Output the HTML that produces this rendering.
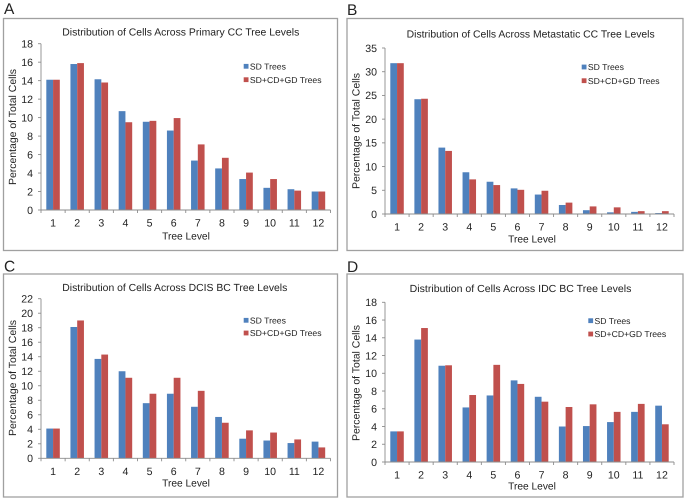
<!DOCTYPE html>
<html>
<head>
<meta charset="utf-8">
<title>Distribution of Cells Across Tree Levels</title>
<style>
html,body{margin:0;padding:0;background:#fff;width:687px;height:501px;overflow:hidden}
svg{display:block;filter:blur(0.3px)}
text{font-family:"Liberation Sans",sans-serif;fill:#222;text-rendering:geometricPrecision}
</style>
</head>
<body>
<svg id="figure" xmlns="http://www.w3.org/2000/svg" width="687" height="501" viewBox="0 0 687 501"></svg>
<script>
const categories = ['1','2','3','4','5','6','7','8','9','10','11','12'];
const seriesNames = ['SD Trees','SD+CD+GD Trees'];
const seriesColors = ['#4f81bd','#c0504d'];

const ticksA = [0,2,4,6,8,10,12,14,16,18];
const sdA = [14.1,15.8,14.15,10.7,9.55,8.6,5.35,4.5,3.35,2.4,2.25,2.0];
const allA = [14.1,15.9,13.8,9.5,9.65,9.95,7.1,5.65,4.05,3.35,2.1,2.0];

const ticksB = [0,5,10,15,20,25,30,35];
const sdB = [31.8,24.2,14.0,8.8,6.8,5.4,4.1,1.9,0.8,0.35,0.45,0.2];
const allB = [31.8,24.3,13.3,7.3,6.1,5.1,4.9,2.4,1.6,1.4,0.6,0.6];

const ticksC = [0,2,4,6,8,10,12,14,16,18,20,22];
const sdC = [4.1,18.1,13.7,12.0,7.6,8.9,7.1,5.7,2.7,2.45,2.1,2.3];
const allC = [4.1,19.0,14.3,11.1,8.9,11.1,9.3,4.9,3.85,3.55,2.6,1.5];

const ticksD = [0,2,4,6,8,10,12,14,16,18];
const sdD = [3.45,13.8,10.85,6.15,7.5,9.2,7.35,4.0,4.05,4.5,5.65,6.35];
const allD = [3.45,15.1,10.9,7.55,10.95,8.8,6.8,6.2,6.5,5.65,6.55,4.25];

const NS = 'http://www.w3.org/2000/svg';
const root = document.getElementById('figure');

function make(parent, tag, attrs, txt) {
  const n = document.createElementNS(NS, tag);
  for (const k in attrs) n.setAttribute(k, attrs[k]);
  if (txt !== undefined) n.textContent = txt;
  parent.appendChild(n);
  return n;
}

function drawPanel(p) {
  const g = make(root, 'g', {});
  
  

  const letter = make(g, 'text', {x:p.letterX, y:p.letterY, 'font-size':15.5}, p.letter);
  
  

  const frame = make(g, 'rect', {x:p.fx, y:p.fy, width:p.fw, height:p.fh, fill:'#fff', stroke:'#a0a0a0', 'stroke-width':1.3});
  
  

  const title = make(g, 'text', {x:p.titleX, y:p.titleY, 'font-size':10.3, textLength:p.titleW, lengthAdjust:'spacingAndGlyphs'}, p.title);
  
  

  const maxV = p.ticks[p.ticks.length - 1];
  const yScale = v => p.y0 - (v / maxV) * (p.y0 - p.yTop);
  const cell = (p.x1 - p.x0) / categories.length;
  const xCenter = i => p.x0 + cell * (i + 0.5);
  const barW = cell * 0.28;

  [p.sd, p.all].forEach((vals, s) => {
    vals.forEach((v, i) => {
      const y = yScale(v);
      const bar = make(g, 'rect', {x:xCenter(i) - barW + s * barW, y:y, width:barW, height:p.y0 - y, fill:seriesColors[s]});
      
      
    });
  });

  const yAxis = make(g, 'line', {x1:p.x0, x2:p.x0, y1:p.yTop, y2:p.y0, stroke:'#8c8c8c', 'stroke-width':0.9});
  
  

  const xAxis = make(g, 'line', {x1:p.x0, x2:p.x1, y1:p.y0, y2:p.y0, stroke:'#8c8c8c', 'stroke-width':0.9});
  
  

  p.ticks.forEach(t => {
    const y = yScale(t);
    const mark = make(g, 'line', {x1:p.x0 - 3, x2:p.x0, y1:y, y2:y, stroke:'#8c8c8c', 'stroke-width':0.9});
    
    
    const lab = make(g, 'text', {x:p.x0 - 8, y:y + 3.8, 'font-size':10.6, 'text-anchor':'end'}, String(t));
    
    
  });

  for (let i = 0; i <= categories.length; i++) {
    const x = p.x0 + cell * i;
    const mark = make(g, 'line', {x1:x, x2:x, y1:p.y0, y2:p.y0 + 3, stroke:'#8c8c8c', 'stroke-width':0.9});
    
    
  }

  categories.forEach((c, i) => {
    const lab = make(g, 'text', {x:xCenter(i), y:p.y0 + 16.5, 'font-size':10.6, 'text-anchor':'middle'}, c);
    
    
  });

  const xTitle = make(g, 'text', {x:p.xtX, y:p.xtY, 'font-size':10.2, 'text-anchor':'middle'}, 'Tree Level');
  
  

  const yTitle = make(g, 'text', {'font-size':10.4, 'text-anchor':'middle', textLength:116, lengthAdjust:'spacingAndGlyphs', transform:'translate(' + p.ytX + ',' + p.ytY + ') rotate(-90)'}, 'Percentage of Total Cells');
  
  

  seriesNames.forEach((name, s) => {
    const ly = s === 0 ? p.leg1 : p.leg2;
    const entry = make(g, 'g', {});
    
    
    const sw = make(entry, 'rect', {x:p.legX, y:ly - 2.4, width:4.8, height:4.8, fill:seriesColors[s]});
    
    
    const tx = make(entry, 'text', {x:p.legX + 6.2, y:ly + 3.1, 'font-size':8.6, textLength:s === 0 ? 36 : 71.7, lengthAdjust:'spacingAndGlyphs'}, name);
    
    
  });
}

drawPanel({letter:'A', letterX:4, letterY:14, fx:3.5, fy:18.5, fw:334, fh:232,
  title:'Distribution of Cells Across Primary CC Tree Levels', titleX:62.3, titleY:35.5, titleW:237,
  ticks:ticksA, sd:sdA, all:allA, x0:41, x1:330.5, y0:210, yTop:43.7,
  xtX:186, xtY:239.5, ytX:16, ytY:127, legX:243.7, leg1:66.3, leg2:79.7});

drawPanel({letter:'B', letterX:347, letterY:15, fx:347, fy:18.5, fw:336, fh:232,
  title:'Distribution of Cells Across Metastatic CC Tree Levels', titleX:406.7, titleY:37.3, titleW:248,
  ticks:ticksB, sd:sdB, all:allB, x0:385, x1:674, y0:214, yTop:48,
  xtX:532, xtY:242.5, ytX:359.5, ytY:131, legX:581.7, leg1:67, leg2:80.7});

drawPanel({letter:'C', letterX:4, letterY:271.7, fx:3.5, fy:274, fw:334, fh:223,
  title:'Distribution of Cells Across DCIS BC Tree Levels', titleX:62.3, titleY:290.8, titleW:225,
  ticks:ticksC, sd:sdC, all:allC, x0:41, x1:330.5, y0:458.3, yTop:298.7,
  xtX:186, xtY:486.5, ytX:16, ytY:378, legX:243.7, leg1:320.3, leg2:333});

drawPanel({letter:'D', letterX:347, letterY:272, fx:347, fy:274, fw:336, fh:223,
  title:'Distribution of Cells Across IDC BC Tree  Levels', titleX:409.7, titleY:291.8, titleW:221.7,
  ticks:ticksD, sd:sdD, all:allD, x0:385, x1:674, y0:462, yTop:302.3,
  xtX:532, xtY:489.5, ytX:359.5, ytY:383, legX:588.3, leg1:320.7, leg2:334});
</script>
</body>
</html>
